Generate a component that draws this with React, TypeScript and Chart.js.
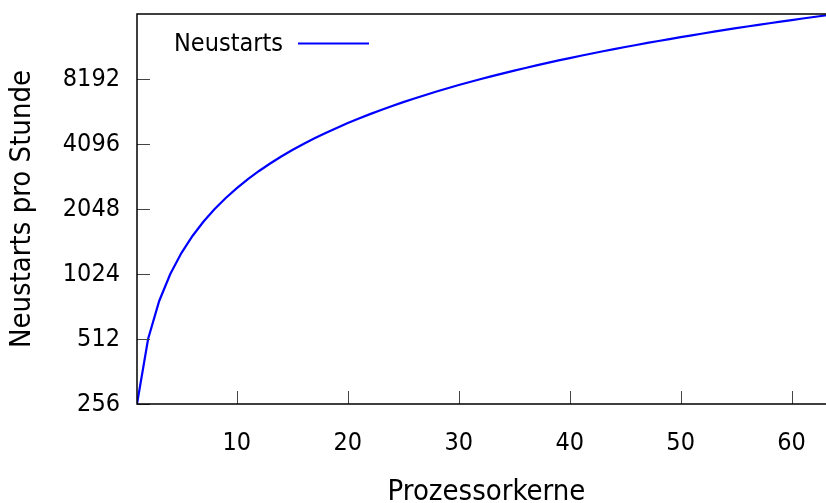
import React, { useEffect, useRef } from "react";
import { Chart, registerables } from "chart.js";

Chart.register(...registerables);

const cores = [
  1, 2, 3, 4, 5, 6, 7, 8, 9, 10, 11, 12, 13, 14, 15, 16, 17, 18, 19, 20, 21, 22, 23, 24, 25, 26, 27, 28, 29, 30, 31, 32,
  33, 34, 35, 36, 37, 38, 39, 40, 41, 42, 43, 44, 45, 46, 47, 48, 49, 50, 51, 52, 53, 54, 55, 56, 57, 58, 59, 60, 61, 62, 63, 64,
];
const restarts = [
  256, 512, 768, 1024, 1280, 1536, 1792, 2048, 2304, 2560, 2816, 3072, 3328, 3584, 3840, 4096,
  4352, 4608, 4864, 5120, 5376, 5632, 5888, 6144, 6400, 6656, 6912, 7168, 7424, 7680, 7936, 8192,
  8448, 8704, 8960, 9216, 9472, 9728, 9984, 10240, 10496, 10752, 11008, 11264, 11520, 11776, 12032, 12288,
  12544, 12800, 13056, 13312, 13568, 13824, 14080, 14336, 14592, 14848, 15104, 15360, 15616, 15872, 16128, 16384,
];
const xTicks = [10, 20, 30, 40, 50, 60];
const yTicks = [256, 512, 1024, 2048, 4096, 8192];
const seriesLabel = "Neustarts";
const xTitle = "Prozessorkerne";
const yTitle = "Neustarts pro Stunde";

const FONT = "'DejaVu Sans Condensed', 'DejaVu Sans', sans-serif";

const framePlugin = {
  id: "gnuFrame",
  afterDatasetsDraw(chart: any) {
    const { ctx, chartArea, scales } = chart;
    const { left, right, top, bottom } = chartArea;
    ctx.save();
    ctx.strokeStyle = "#444444";
    ctx.lineWidth = 1;
    ctx.beginPath();
    for (const v of xTicks) {
      const x = Math.round(scales.x.getPixelForValue(v)) + 0.5;
      ctx.moveTo(x, bottom);
      ctx.lineTo(x, bottom - 13);
    }
    for (const v of yTicks) {
      const y = Math.round(scales.y.getPixelForValue(v)) + 0.5;
      ctx.moveTo(left, y);
      ctx.lineTo(left + 13, y);
    }
    ctx.stroke();
    ctx.strokeStyle = "#000000";
    ctx.lineWidth = 1.5;
    ctx.beginPath();
    ctx.moveTo(right, top);
    ctx.lineTo(left, top);
    ctx.lineTo(left, bottom);
    ctx.lineTo(right, bottom);
    ctx.stroke();
    ctx.font = "25px " + FONT;
    ctx.fillStyle = "#000000";
    ctx.textBaseline = "middle";
    ctx.textAlign = "right";
    ctx.fillText(seriesLabel, 283, 44);
    ctx.strokeStyle = "#0000ff";
    ctx.lineWidth = 2;
    ctx.beginPath();
    ctx.moveTo(298, 43.5);
    ctx.lineTo(369, 43.5);
    ctx.stroke();
    ctx.restore();
  },
};

export default function App() {
  const ref = useRef<HTMLCanvasElement | null>(null);
  useEffect(() => {
    if (!ref.current) return;
    const chart = new Chart(ref.current, {
      type: "line",
      data: {
        labels: cores,
        datasets: [
          {
            label: seriesLabel,
            data: cores.map((c, i) => ({ x: c, y: restarts[i] })),
            borderColor: "#0000ff",
            borderWidth: 2.2,
            pointRadius: 0,
            tension: 0,
            fill: false,
          },
        ],
      },
      options: {
        animation: false,
        responsive: false,
        maintainAspectRatio: false,
        layout: { padding: { top: 14, right: 10, left: 0, bottom: 0 } },
        plugins: { legend: { display: false }, tooltip: { enabled: false } },
        scales: {
          x: {
            type: "linear",
            min: 1,
            max: 64,
            grid: { display: false, drawTicks: false },
            border: { display: false },
            afterBuildTicks: (s: any) => {
              s.ticks = xTicks.map((v) => ({ value: v }));
            },
            afterFit: (s: any) => {
              s.height = 99;
              s.paddingLeft = 0;
              s.paddingRight = 0;
            },
            ticks: {
              padding: 24,
              color: "#000",
              font: { family: FONT, size: 25 },
              maxRotation: 0,
              autoSkip: false,
            },
            title: {
              display: true,
              text: xTitle,
              color: "#000",
              font: { family: FONT, size: 29 },
              padding: { top: 0, bottom: -7 },
            },
          },
          y: {
            type: "logarithmic",
            min: 256,
            max: 16384,
            grid: { display: false, drawTicks: false },
            border: { display: false },
            afterBuildTicks: (s: any) => {
              s.ticks = yTicks.map((v) => ({ value: v }));
            },
            afterFit: (s: any) => {
              s.width = 137;
              s.paddingTop = 0;
              s.paddingBottom = 0;
            },
            ticks: {
              padding: 17,
              color: "#000",
              font: { family: FONT, size: 25 },
              autoSkip: false,
              callback: (v: any) => String(v),
            },
            title: {
              display: true,
              text: yTitle,
              color: "#000",
              font: { family: FONT, size: 29 },
              padding: { top: 5, bottom: 0 },
            },
          },
        },
      },
      plugins: [framePlugin],
    });
    return () => chart.destroy();
  }, []);
  return (
    <div style={{ position: "fixed", left: 0, top: 0, width: 826, height: 503, overflow: "hidden", background: "#fff" }}>
      <canvas ref={ref} width={846} height={503} style={{ width: 846, height: 503, display: "block" }} />
    </div>
  );
}
